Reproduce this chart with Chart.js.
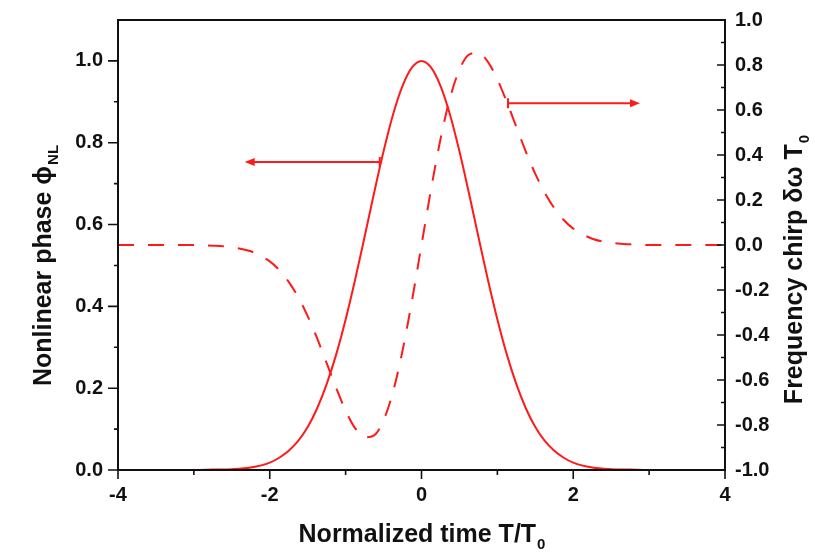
<!DOCTYPE html>
<html>
<head>
<meta charset="utf-8">
<script src="https://cdn.jsdelivr.net/npm/chart.js@4.4.0/dist/chart.umd.min.js"></script>
<style>
  html, body { margin: 0; padding: 0; background: #fff; }
  #wrap { width: 815px; height: 555px; }
</style>
</head>
<body>
<div id="wrap"><canvas id="chart1"></canvas></div>
<script>
// normalized time T/T0
var times = [-4, -3.75, -3.5, -3.25, -3, -2.75, -2.5, -2.25, -2, -1.875, -1.75, -1.625, -1.5, -1.375, -1.25, -1.125,
             -1, -0.875, -0.75, -0.625, -0.5, -0.375, -0.25, -0.125, 0,
             0.125, 0.25, 0.375, 0.5, 0.625, 0.75, 0.875, 1, 1.125, 1.25, 1.375, 1.5, 1.625, 1.75, 1.875, 2,
             2.25, 2.5, 2.75, 3, 3.25, 3.5, 3.75, 4]

// nonlinear phase (left axis)
var phase = [0, 0, 0, 0, 0, 0.001, 0.002, 0.006, 0.018, 0.03, 0.047, 0.071, 0.105, 0.151, 0.21, 0.282,
             0.368, 0.465, 0.57, 0.677, 0.779, 0.869, 0.939, 0.984, 1.0,
             0.984, 0.939, 0.869, 0.779, 0.677, 0.57, 0.465, 0.368, 0.282, 0.21, 0.151, 0.105, 0.071, 0.047, 0.03, 0.018,
             0.006, 0.002, 0.001, 0, 0, 0, 0, 0]

// frequency chirp (right axis)
var chirp = [0, 0, 0, 0, 0, -0.003, -0.01, -0.028, -0.073, -0.111, -0.164, -0.232, -0.316, -0.415, -0.525, -0.635,
             -0.736, -0.814, -0.855, -0.846, -0.779, -0.652, -0.47, -0.246, 0,
             0.246, 0.47, 0.652, 0.779, 0.846, 0.855, 0.814, 0.736, 0.635, 0.525, 0.415, 0.316, 0.232, 0.164, 0.111, 0.073,
             0.028, 0.01, 0.003, 0, 0, 0, 0, 0]

// arrows: [value on axis, T start, T end]
var leftArrow  = [0.753, -0.55, -2.33]
var rightArrow = [0.63, 1.14, 2.88]

const red = "#ff1a1a"
const fontFam = "'Liberation Sans', Arial, sans-serif"

function pts(ys) {
  var out = []
  for (var i = 0; i < times.length; i++) out.push({ x: times[i], y: ys[i] })
  return out
}

function fmt(v) {
  if (Math.abs(v) < 1e-9) return "0.0"
  return v.toFixed(1)
}

// frame, tick marks, arrows and axis titles
const decor = {
  id: "decor",
  afterDraw: function(chart) {
    const ctx = chart.ctx
    const a = chart.chartArea
    const sx = chart.scales.x, sy = chart.scales.y, sy1 = chart.scales.y1
    ctx.save()
    ctx.strokeStyle = "#111"
    ctx.lineWidth = 2
    ctx.strokeRect(a.left, a.top, a.right - a.left, a.bottom - a.top)

    ctx.lineWidth = 1.6
    ctx.beginPath()
    // x ticks (outward)
    for (var t = -4; t <= 4; t++) {
      var px = sx.getPixelForValue(t)
      var len = (t % 2 == 0) ? 9 : 5
      ctx.moveTo(px, a.bottom); ctx.lineTo(px, a.bottom + len)
    }
    // left ticks (outward)
    for (var k = 0; k <= 10; k++) {
      var py = sy.getPixelForValue(k / 10)
      var len = (k % 2 == 0) ? 10 : 4
      ctx.moveTo(a.left, py); ctx.lineTo(a.left - len, py)
    }
    // right ticks (inward)
    for (var k = -10; k <= 10; k++) {
      var py = sy1.getPixelForValue(k / 10)
      var len = (k % 2 == 0) ? 8 : 4
      ctx.moveTo(a.right, py); ctx.lineTo(a.right - len, py)
    }
    ctx.stroke()

    // arrows
    ctx.strokeStyle = red
    ctx.fillStyle = red
    ctx.lineWidth = 2
    function arrow(scale, spec) {
      var y = scale.getPixelForValue(spec[0])
      var x0 = sx.getPixelForValue(spec[1])
      var x1 = sx.getPixelForValue(spec[2])
      var dir = x1 > x0 ? 1 : -1
      ctx.beginPath()
      ctx.moveTo(x0, y - 5); ctx.lineTo(x0, y + 5)
      ctx.moveTo(x0, y); ctx.lineTo(x1 - dir * 6, y)
      ctx.stroke()
      ctx.beginPath()
      ctx.moveTo(x1, y)
      ctx.lineTo(x1 - dir * 10, y - 4)
      ctx.lineTo(x1 - dir * 10, y + 4)
      ctx.closePath()
      ctx.fill()
    }
    arrow(sy, leftArrow)
    arrow(sy1, rightArrow)

    // axis titles with subscripts
    ctx.fillStyle = "#111"
    function title(main, sub, x, y, rot) {
      ctx.save()
      ctx.translate(x, y)
      ctx.rotate(rot)
      ctx.font = "bold 25px " + fontFam
      var w1 = ctx.measureText(main).width
      ctx.font = "bold 15px " + fontFam
      var w2 = ctx.measureText(sub).width
      var start = -(w1 + w2) / 2
      ctx.textBaseline = "middle"
      ctx.textAlign = "left"
      ctx.font = "bold 25px " + fontFam
      ctx.fillText(main, start, 0)
      ctx.font = "bold 15px " + fontFam
      ctx.fillText(sub, start + w1 + 1, 10)
      ctx.restore()
    }
    title("Normalized time T/T", "0", (a.left + a.right) / 2, 535, 0)
    title("Nonlinear phase \u03D5", "NL", 44, 266, -Math.PI / 2)
    title("Frequency chirp \u03B4\u03C9 T", "0", 795, 270, -Math.PI / 2)
    ctx.restore()
  }
}

const data = {
  datasets: [
    {
      label: "phase",
      data: pts(phase),
      yAxisID: "y",
      borderColor: red,
      borderWidth: 2,
      pointRadius: 0,
      cubicInterpolationMode: "monotone"
    },
    {
      label: "chirp",
      data: pts(chirp),
      yAxisID: "y1",
      borderColor: red,
      borderWidth: 2,
      borderDash: [16, 14],
      pointRadius: 0,
      cubicInterpolationMode: "monotone"
    }
  ]
}

const tickFont = { family: fontFam, size: 20, weight: "bold" }

function fitY(width) {
  return function(s) {
    s.width = width
    s.paddingTop = 0
    s.paddingBottom = 0
  }
}

const config = {
  type: "line",
  data: data,
  options: {
    responsive: true,
    maintainAspectRatio: false,
    animation: false,
    layout: { padding: { top: 20, left: 0, right: 0, bottom: 0 } },
    plugins: { legend: { display: false }, tooltip: { enabled: false } },
    scales: {
      x: {
        type: "linear",
        min: -4, max: 4,
        grid: { display: false, drawTicks: false },
        border: { display: false },
        ticks: { stepSize: 2, padding: 13, color: "#111", font: tickFont,
                 callback: function(v) { return Math.round(v).toString() } },
        afterFit: function(s) { s.height = 85 }
      },
      y: {
        position: "left",
        min: 0, max: 1.1,
        grid: { display: false, drawTicks: false },
        border: { display: false },
        ticks: { stepSize: 0.2, includeBounds: false, padding: 15, color: "#111", font: tickFont,
                 callback: fmt },
        afterFit: fitY(118)
      },
      y1: {
        position: "right",
        min: -1, max: 1,
        grid: { display: false, drawTicks: false },
        border: { display: false },
        ticks: { stepSize: 0.2, padding: 10, color: "#111", font: tickFont,
                 callback: fmt },
        afterFit: fitY(90)
      }
    }
  },
  plugins: [decor]
}

const myChart = new Chart(document.getElementById("chart1").getContext("2d"), config)
</script>
</body>
</html>
